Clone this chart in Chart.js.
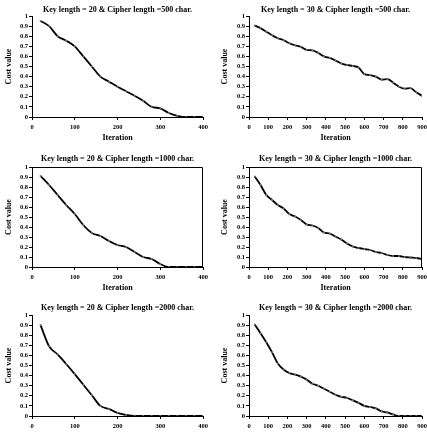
<html>
  <head>
    <script src="https://cdn.jsdelivr.net/npm/chart.js"></script>
    <style>
      body { margin: 0; background: #fff; width: 427px; height: 435px; overflow: hidden; position: relative; }
      .panel { position: absolute; }
    </style>
  </head>
  <body>
    <div id="content"></div>
    <script>
const ITER_KEY20 = [20,40,60,80,100,120,140,160,180,200,220,240,260,280,300,320,340,360,380,400];
const ITER_KEY30 = [30,60,90,120,150,180,210,240,270,300,330,360,390,420,450,480,510,540,570,600,630,660,690,720,750,780,810,840,870,900];

const COST_K20_C500  = [0.95,0.90,0.80,0.755,0.70,0.60,0.50,0.40,0.35,0.30,0.255,0.21,0.16,0.10,0.085,0.04,0.012,0,0,0];
const COST_K30_C500  = [0.905,0.88,0.845,0.81,0.78,0.76,0.73,0.71,0.695,0.665,0.66,0.635,0.60,0.585,0.56,0.53,0.515,0.505,0.49,0.425,0.415,0.40,0.37,0.375,0.34,0.30,0.28,0.285,0.245,0.21];
const COST_K20_C1000 = [0.91,0.82,0.72,0.62,0.53,0.42,0.34,0.31,0.26,0.22,0.20,0.15,0.10,0.08,0.03,0,0,0,0,0];
const COST_K30_C1000 = [0.905,0.82,0.72,0.67,0.62,0.585,0.53,0.505,0.47,0.425,0.415,0.39,0.345,0.335,0.305,0.275,0.235,0.205,0.19,0.18,0.17,0.15,0.14,0.12,0.11,0.11,0.10,0.095,0.09,0.08];
const COST_K20_C2000 = [0.90,0.69,0.61,0.515,0.415,0.31,0.205,0.10,0.07,0.03,0.01,0,0,0,0,0,0,0,0,0];
const COST_K30_C2000 = [0.905,0.82,0.73,0.63,0.52,0.46,0.425,0.41,0.39,0.36,0.32,0.30,0.27,0.24,0.21,0.19,0.18,0.155,0.13,0.10,0.09,0.075,0.045,0.035,0.015,0,0,0,0,0];

const TITLES = [
  "Key length = 20 & Cipher length =500 char.",
  "Key length = 30 & Cipher length =500 char.",
  "Key length = 20 & Cipher length =1000 char.",
  "Key length = 30 & Cipher length =1000 char.",
  "Key length = 20 & Cipher length =2000 char.",
  "Key length = 30 & Cipher length =2000 char."
];

var FONT = "'Liberation Serif', 'Times New Roman', serif";
var domContent = document.getElementById("content");

// closes the plot area on top and right (middle row only)
var framePlugin = {
  id: "frame",
  afterDraw: function(chart) {
    var a = chart.chartArea, ctx = chart.ctx;
    ctx.save();
    ctx.strokeStyle = "#000";
    ctx.lineWidth = 1;
    ctx.beginPath();
    ctx.moveTo(a.left, a.top + 0.5);
    ctx.lineTo(a.right - 0.5, a.top + 0.5);
    ctx.lineTo(a.right - 0.5, a.bottom);
    ctx.stroke();
    ctx.restore();
  }
};

function makePanel(p) {
  var div = document.createElement("div");
  div.className = "panel";
  div.style.left = p.left + "px";
  div.style.top = p.top + "px";
  var canvas = document.createElement("canvas");
  canvas.width = p.width;
  canvas.height = 148;
  div.appendChild(canvas);
  domContent.appendChild(div);

  var tickFont = {family: FONT, size: 6.5, weight: "bold"};
  var titleFont = {family: FONT, size: 8, weight: "bold"};

  new Chart(canvas, {
    type: "line",
    data: {
      datasets: [{
        data: p.iter.map((x, i) => ({x: x, y: p.cost[i]})),
        borderColor: "#000",
        borderWidth: 1.8,
        pointRadius: 1,
        pointBorderWidth: 0,
        pointBackgroundColor: "#777",
        cubicInterpolationMode: "monotone"
      }]
    },
    plugins: p.frame ? [framePlugin] : [],
    options: {
      responsive: false,
      animation: false,
      layout: {padding: {left: 0, right: p.padRight, top: 0, bottom: p.padBottom}},
      plugins: {
        legend: {display: false},
        tooltip: {enabled: false},
        title: {
          display: true,
          text: p.title,
          fullSize: false,
          color: "#000",
          font: titleFont,
          padding: {top: p.titleTop, bottom: p.titleBottom}
        }
      },
      scales: {
        x: {
          type: "linear",
          min: 0,
          max: p.xMax,
          ticks: {stepSize: 100, font: tickFont, color: "#000", padding: 3, maxRotation: 0, autoSkip: false},
          grid: {drawOnChartArea: false, tickLength: 3, color: "#000"},
          border: {color: "#000", width: 1},
          title: {display: p.xTitle, text: "Iteration", color: "#000", font: titleFont, padding: {top: 0, bottom: 2.2}},
          afterFit: function(s) { s.height = 28; s.paddingLeft = 0; s.paddingRight = 0; }
        },
        y: {
          min: 0,
          max: 1,
          ticks: {
            stepSize: 0.1, font: tickFont, color: "#000", padding: 1, autoSkip: false,
            callback: v => String(Math.round(v * 10) / 10)
          },
          grid: {drawOnChartArea: false, tickLength: 3, color: "#000"},
          border: {color: "#000", width: 1},
          title: {display: true, text: "Cost value", color: "#000", font: titleFont, padding: {top: p.yTitlePad, bottom: 0}},
          afterFit: function(s) { s.width = p.yWidth; s.paddingTop = 0; s.paddingBottom = 0; }
        }
      }
    }
  });
}

var LEFT = {left: 0, width: 213, padRight: 10, yWidth: 32, yTitlePad: 4.5, iter: ITER_KEY20, xMax: 400};
var RIGHT = {left: 213, width: 214, padRight: 5, yWidth: 36, yTitlePad: 7.5, iter: ITER_KEY30, xMax: 900};
var ROWS = [
  {top: 0,   padBottom: 3, titleTop: 5,   titleBottom: 1.4, frame: false, xTitle: true},
  {top: 148, padBottom: 1, titleTop: 6.2, titleBottom: 3.2, frame: true,  xTitle: true},
  {top: 296, padBottom: 0, titleTop: 7.2, titleBottom: 2.2, frame: false, xTitle: false}
];
var COSTS = [COST_K20_C500, COST_K30_C500, COST_K20_C1000, COST_K30_C1000, COST_K20_C2000, COST_K30_C2000];

for (var i = 0; i < 6; i++) {
  var p = Object.assign({}, i % 2 ? RIGHT : LEFT, ROWS[Math.floor(i / 2)]);
  p.title = TITLES[i];
  p.cost = COSTS[i];
  makePanel(p);
}
    </script>
  </body>
</html>
